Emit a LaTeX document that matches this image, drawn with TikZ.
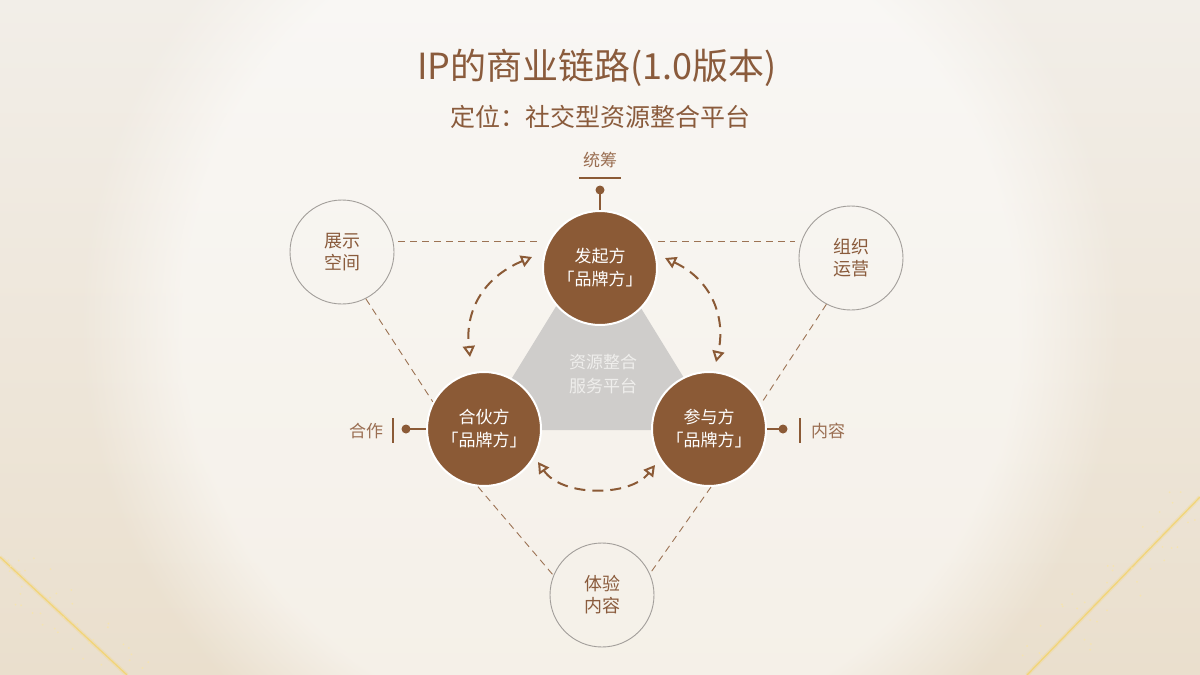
\documentclass[tikz,border=0pt]{standalone}
\usepackage{fontspec}
\setmainfont{Noto Sans CJK SC}
\usetikzlibrary{arrows.meta,calc,fadings}
\definecolor{brn}{HTML}{8B5A36}
\definecolor{tbrn}{HTML}{8A5B3C}
\definecolor{lbrn}{HTML}{9A6E52}
\definecolor{ring}{HTML}{A29E9A}
\definecolor{bgtop}{HTML}{F2EEE8}
\definecolor{bgbot}{HTML}{EADFCD}
\definecolor{trap}{HTML}{CFCDCB}
\definecolor{gold}{HTML}{F3D470}
\definecolor{ptext}{HTML}{EFEEEC}
\newcommand\myfs[2]{\fontsize{#1pt}{#2pt}\selectfont}
\begin{document}
\begin{tikzpicture}[x=1pt,y=-1pt,
  maincirc/.style={circle,fill=brn,draw=white,line width=2pt,minimum size=114pt,inner sep=0pt,text=white,align=center,font=\myfs{17}{23}},
  outcirc/.style={circle,draw=ring,line width=0.9pt,minimum size=104pt,inner sep=0pt,text=tbrn,align=center,font=\myfs{18}{22}},
  dline/.style={draw=brn!85,line width=0.9pt,dash pattern=on 7pt off 5pt},
  darc/.style={draw=brn,line width=2pt,dash pattern=on 11pt off 7pt,{Triangle[open,length=11pt,width=12pt,line width=2pt]}-{Triangle[open,length=11pt,width=12pt,line width=2pt]}},
  sidetext/.style={text=lbrn,font=\myfs{17}{20},inner sep=0pt},
  conn/.style={draw=brn,line width=2pt},
  dotc/.style={fill=brn},
  bar/.style={draw=brn,line width=2.5pt}]
\useasboundingbox (0,0) rectangle (1200,675);
% background
\shade[top color=bgtop,bottom color=bgbot] (0,0) rectangle (1200,675);
\fill[white,opacity=0.55,path fading=circle with fuzzy edge 20 percent] (600,320) circle[radius=520];
\draw[gold,line width=4pt,opacity=0.25] (1200,497) -- (1027,675);
\draw[gold,line width=1.2pt,opacity=0.9] (1200,497) -- (1027,675);
\draw[gold,line width=4pt,opacity=0.25] (0,557) -- (127,675);
\draw[gold,line width=1.2pt,opacity=0.9] (0,557) -- (127,675);
\pgfmathsetseed{7}
\foreach \i in {1,...,40}{
  \pgfmathsetmacro{\tt}{rnd}
  \pgfmathsetmacro{\dx}{(rnd-0.5)*60}
  \fill[gold!60!white,opacity=0.8] ($(1200,497)!\tt!(1027,675)+(\dx,\dx*0.3)$) circle[radius=1];
  \pgfmathsetmacro{\ss}{rnd}
  \pgfmathsetmacro{\ex}{(rnd-0.5)*60}
  \fill[gold!60!white,opacity=0.8] ($(0,557)!\ss!(127,675)+(\ex,-\ex*0.3)$) circle[radius=1];
}
% titles
\node[text=tbrn,font=\myfs{36}{40}] (title) at (597,68) {IP的商业链路(1.0版本)};
\node[text=tbrn,font=\myfs{25}{30}] (sub) at (600,117) {定位：社交型资源整合平台};
% central platform
\fill[trap] (560,300) -- (636,300) -- (716,430) -- (480,430) -- cycle;
\node[text=ptext,font=\myfs{17}{24},align=center] (plat) at (603,374) {资源整合\\服务平台};
% outer circles
\node[outcirc] (zs) at (342,252) {展示\\空间};
\node[outcirc] (zy) at (851,258) {组织\\运营};
\node[outcirc] (ty) at (602,595) {体验\\内容};
% main circles
\node[maincirc] (top) at (600,268) {发起方\\「品牌方」};
\node[maincirc] (hh) at (484,429) {合伙方\\「品牌方」};
\node[maincirc] (cy) at (709,429) {参与方\\「品牌方」};
% dashed straight connectors
\draw[dline] ([xshift=4pt,yshift=11pt]zs.east) -- ([yshift=27pt]top.west);
\draw[dline] ([yshift=27pt]top.east) -- ([xshift=-4pt,yshift=17pt]zy.west);
\draw[dline] (zs.-63) -- (hh.152);
\draw[dline] (zy.242) -- (cy.26);
\draw[dline] (hh.264) -- (ty.158);
\draw[dline] (cy.272) -- (ty.24);
% curved dashed arrows
\coordinate (la1) at (532,257); \coordinate (la2) at (470,357);
\coordinate (ra1) at (665,258); \coordinate (ra2) at (716,362);
\coordinate (ba1) at (538,462); \coordinate (ba2) at (655,465);
\draw[darc] (la1) .. controls (482,278) and (465,312) .. (la2);
\draw[darc] (ra1) .. controls (712,280) and (726,318) .. (ra2);
\draw[darc] (ba1) .. controls (562,497) and (630,497) .. (ba2);
% top label
\node[sidetext] (tc) at (600,160) {统筹};
\coordinate (tcl) at (600,178);
\coordinate (tcdot) at (600,190);
\draw[draw=brn,line width=1.5pt] ([xshift=-21pt]tcl) -- ([xshift=21pt]tcl);
\draw[conn] (tcdot) -- (top.north);
\fill[dotc] (tcdot) circle[radius=4.5];
% left label
\node[sidetext] (hz) at (366,431) {合作};
\coordinate (hzbar) at (393,430);
\coordinate (hzdot) at (406,429);
\draw[bar] ([yshift=12pt]hzbar) -- ([yshift=-13pt]hzbar);
\draw[conn] (hzdot) -- (hh.west);
\fill[dotc] (hzdot) circle[radius=4.5];
% right label
\node[sidetext] (nr) at (828,431) {内容};
\coordinate (nrbar) at (800,430);
\coordinate (nrdot) at (783,429);
\draw[bar] ([yshift=12pt]nrbar) -- ([yshift=-13pt]nrbar);
\draw[conn] (cy.east) -- (nrdot);
\fill[dotc] (nrdot) circle[radius=4.5];
\end{tikzpicture}
\end{document}
